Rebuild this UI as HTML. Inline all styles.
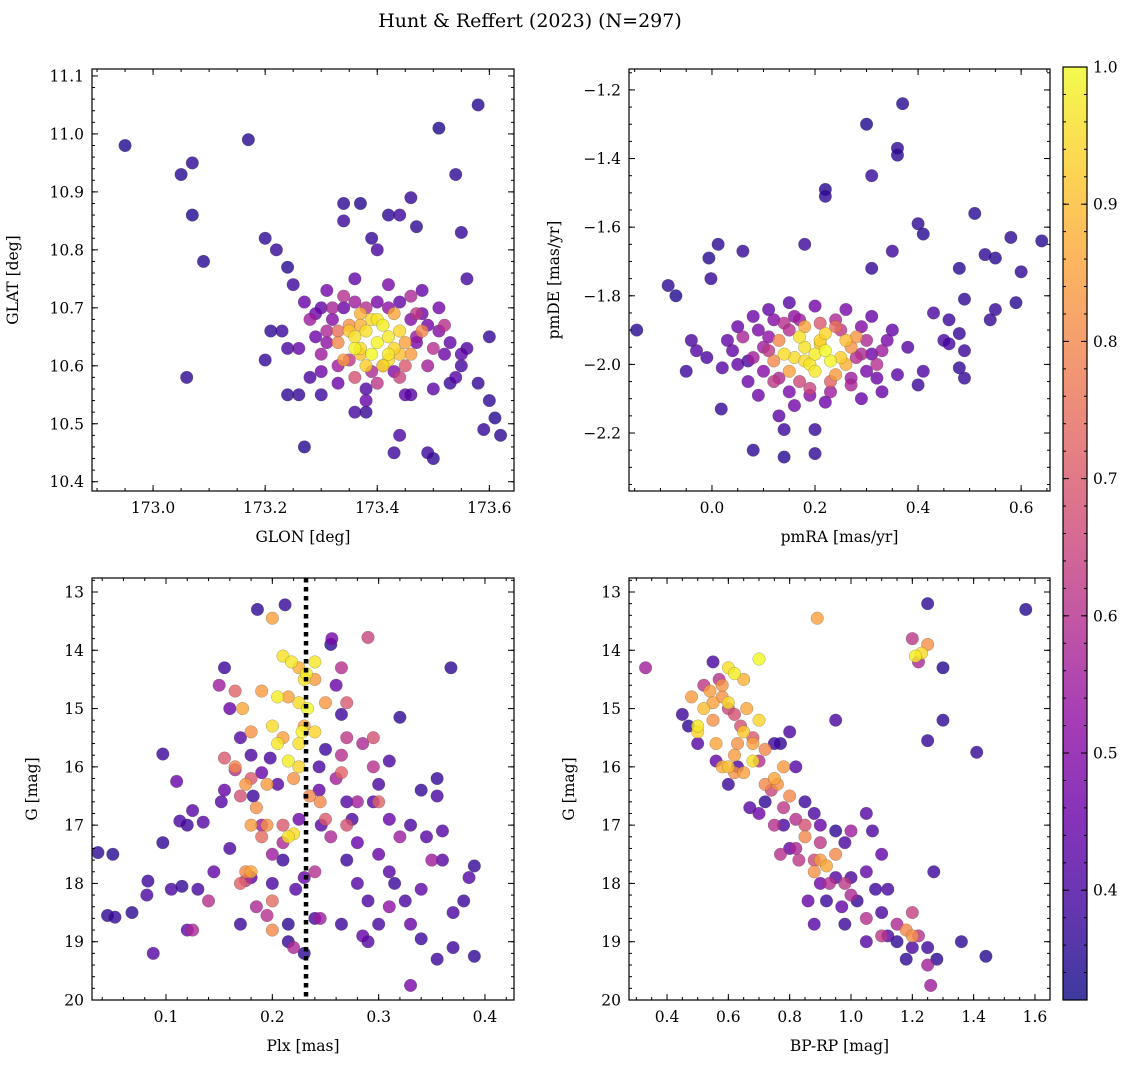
<!DOCTYPE html>
<html><head><meta charset="utf-8"><style>
body{margin:0;background:#fff;}
svg text{font-family:"DejaVu Serif","Liberation Serif",serif;fill:#000;}
</style></head><body>
<svg id="fig" width="1136" height="1067" viewBox="0 0 1136 1067" xmlns="http://www.w3.org/2000/svg">
<defs>
<linearGradient id="plasma" x1="0" y1="1" x2="0" y2="0">
<stop offset="0" stop-color="#0d0887"/><stop offset="0.1" stop-color="#41049d"/><stop offset="0.2" stop-color="#6a00a8"/><stop offset="0.3" stop-color="#8f0da4"/><stop offset="0.4" stop-color="#b12a90"/><stop offset="0.5" stop-color="#cc4778"/><stop offset="0.6" stop-color="#e16462"/><stop offset="0.7" stop-color="#f2844b"/><stop offset="0.8" stop-color="#fca636"/><stop offset="0.9" stop-color="#fcce25"/><stop offset="1" stop-color="#f0f921"/>
</linearGradient>
</defs>
<text x="530" y="27" font-size="19" text-anchor="middle">Hunt &amp; Reffert (2023) (N=297)</text>
</svg>
<script>
// ---------- DATA ----------
const p1Glon=[172.95,173.05,173.07,173.07,173.09,173.06,173.17,173.2,173.22,173.24,173.25,173.21,173.2,173.23,173.24,173.24,173.26,173.27,173.34,173.34,173.37,173.39,173.4,173.42,173.44,173.46,173.47,173.51,173.54,173.58,173.55,173.56,173.67,173.68,173.69,173.58,173.6,173.61,173.62,173.59,173.49,173.5,173.44,173.43,173.36,173.38,173.38,173.3,173.28,173.46,173.53,173.55,173.56,173.6,
173.27,173.29,173.53,173.55,173.51,173.48,173.36,173.42,173.3,173.45,173.38,173.54,173.26,173.31,173.5,173.33,
173.31,173.47,173.3,173.5,173.44,173.36,173.32,173.49,173.52,173.28,173.4,173.46,173.34,
173.35,173.45,173.33,173.46,173.37,173.43,173.48,173.34,
173.38,173.4,173.42,173.37,173.41,173.39,173.43,173.36,173.4,173.42,173.38,173.44,
173.32,173.34,173.36,173.38,173.40,173.42,173.44,173.46,173.48,173.33,173.35,173.39,173.41,173.43,173.47,173.45,173.37,173.29,173.51,173.31,173.49,173.42,173.35,173.39,173.44,173.36,173.41,173.47,173.33,173.30,173.52,173.37];
const p1Glat=[10.98,10.93,10.95,10.86,10.78,10.58,10.99,10.82,10.80,10.77,10.74,10.66,10.61,10.66,10.63,10.55,10.55,10.46,10.88,10.85,10.88,10.82,10.80,10.86,10.86,10.89,10.84,11.01,10.93,11.05,10.83,10.75,10.84,10.66,10.56,10.57,10.54,10.51,10.48,10.49,10.45,10.44,10.48,10.45,10.52,10.52,10.56,10.55,10.58,10.55,10.57,10.6,10.63,10.65,
10.71,10.65,10.64,10.62,10.70,10.73,10.75,10.74,10.59,10.55,10.54,10.58,10.63,10.73,10.56,10.57,
10.66,10.69,10.62,10.63,10.58,10.58,10.70,10.60,10.67,10.68,10.57,10.72,10.72,
10.67,10.64,10.64,10.62,10.69,10.69,10.66,10.61,
10.66,10.64,10.65,10.63,10.67,10.62,10.63,10.65,10.68,10.61,10.60,10.66,
10.68,10.70,10.71,10.70,10.71,10.70,10.71,10.68,10.69,10.60,10.61,10.59,10.60,10.59,10.64,10.60,10.62,10.69,10.66,10.64,10.67,10.62,10.66,10.68,10.62,10.63,10.60,10.65,10.66,10.70,10.62,10.67];
const p1Prob=[0.34,0.35,0.36,0.34,0.35,0.36,0.35,0.36,0.37,0.35,0.38,0.36,0.37,0.38,0.4,0.36,0.37,0.35,0.36,0.38,0.35,0.37,0.4,0.36,0.38,0.37,0.36,0.34,0.36,0.35,0.37,0.39,0.35,0.36,0.35,0.37,0.36,0.35,0.36,0.37,0.38,0.36,0.4,0.38,0.39,0.37,0.41,0.38,0.4,0.42,0.38,0.39,0.41,0.37,
0.45,0.46,0.44,0.43,0.47,0.45,0.44,0.48,0.46,0.43,0.45,0.42,0.44,0.47,0.43,0.46,
0.58,0.62,0.55,0.6,0.65,0.68,0.57,0.56,0.6,0.55,0.62,0.58,0.6,
0.82,0.85,0.8,0.84,0.88,0.86,0.8,0.83,
0.96,0.99,0.97,0.95,0.98,1.0,0.94,0.96,0.97,0.95,0.93,0.94,
0.5,0.45,0.55,0.6,0.48,0.52,0.44,0.5,0.46,0.55,0.62,0.58,0.66,0.5,0.48,0.7,0.9,0.46,0.5,0.52,0.47,0.97,0.92,0.95,0.9,0.99,0.96,0.54,0.75,0.44,0.46,0.88];

const p2Pmra=[-0.146,-0.085,-0.07,-0.002,0.012,-0.006,-0.04,-0.03,-0.05,-0.01,0.018,0.08,0.14,0.14,0.20,0.20,0.18,0.22,0.22,0.3,0.37,0.36,0.36,0.31,0.40,0.41,0.35,0.31,0.51,0.53,0.55,0.58,0.54,0.49,0.48,0.55,0.60,0.59,0.46,0.43,0.45,0.48,0.49,0.48,0.49,0.46,0.41,0.40,0.06,0.07,0.15,0.64,
0.04,0.02,0.05,0.09,0.35,0.36,0.29,0.16,0.22,0.11,0.26,0.31,0.38,0.07,0.20,0.13,0.03,0.33,
0.10,0.30,0.08,0.32,0.12,0.27,0.19,0.14,0.24,0.33,0.06,
0.13,0.27,0.15,0.24,0.12,0.28,0.18,0.26,
0.18,0.20,0.22,0.16,0.19,0.23,0.21,0.17,0.14,0.25,0.20,0.22,
0.09,0.11,0.15,0.17,0.21,0.25,0.29,0.31,0.34,0.10,0.13,0.17,0.23,0.27,0.30,0.05,0.08,0.12,0.16,0.24,0.28,0.32,0.19,0.23,0.15,0.26,0.21,0.18,0.11,0.29];
const p2Pmde=[-1.90,-1.77,-1.80,-1.75,-1.65,-1.69,-1.93,-1.96,-2.02,-1.98,-2.13,-2.25,-2.27,-2.19,-2.26,-2.19,-1.65,-1.49,-1.51,-1.30,-1.24,-1.37,-1.39,-1.45,-1.59,-1.62,-1.67,-1.72,-1.56,-1.68,-1.69,-1.63,-1.87,-1.81,-1.72,-1.84,-1.73,-1.82,-1.87,-1.85,-1.93,-1.91,-1.96,-2.01,-2.04,-1.94,-2.02,-2.06,-1.67,-1.99,-1.82,-1.64,
-1.96,-2.01,-1.89,-2.09,-1.90,-2.03,-2.10,-2.12,-2.11,-1.84,-1.84,-1.86,-1.95,-2.05,-1.83,-2.15,-1.93,-2.08,
-1.95,-1.93,-1.98,-2.00,-2.05,-2.06,-2.07,-1.88,-1.87,-1.96,-1.92,
-1.93,-1.95,-2.02,-2.03,-1.99,-1.92,-1.89,-2.00,
-1.95,-1.97,-1.96,-1.98,-2.00,-1.99,-1.93,-1.92,-1.97,-1.98,-2.02,-1.91,
-1.90,-1.92,-1.90,-1.87,-1.88,-1.90,-1.89,-1.97,-1.93,-2.02,-2.04,-2.05,-2.05,-2.04,-2.02,-2.00,-1.86,-1.87,-1.86,-1.89,-1.98,-2.04,-2.09,-2.08,-2.08,-1.93,-1.94,-1.99,-1.96,-1.97];
const p2Prob=[0.35,0.36,0.34,0.37,0.36,0.35,0.4,0.42,0.38,0.4,0.37,0.36,0.35,0.38,0.36,0.37,0.38,0.35,0.36,0.34,0.35,0.36,0.35,0.37,0.36,0.35,0.38,0.37,0.35,0.36,0.35,0.36,0.37,0.36,0.35,0.37,0.36,0.35,0.38,0.4,0.39,0.37,0.38,0.36,0.37,0.39,0.41,0.38,0.37,0.4,0.42,0.35,
0.44,0.42,0.45,0.46,0.44,0.43,0.45,0.47,0.46,0.44,0.48,0.45,0.42,0.46,0.47,0.43,0.44,0.45,
0.55,0.58,0.56,0.6,0.62,0.57,0.65,0.6,0.58,0.55,0.57,
0.8,0.82,0.85,0.84,0.8,0.83,0.86,0.88,
0.96,0.98,1.0,0.95,0.97,0.99,0.94,0.96,0.95,0.93,0.97,0.94,
0.48,0.52,0.6,0.55,0.7,0.62,0.5,0.46,0.48,0.5,0.58,0.66,0.72,0.55,0.48,0.44,0.46,0.5,0.52,0.75,0.6,0.46,0.5,0.55,0.48,0.9,0.92,0.95,0.62,0.58];

const p3Plx=[0.036,0.05,0.045,0.052,0.083,0.082,0.097,0.068,0.088,0.097,0.11,0.113,0.12,0.125,0.105,0.115,0.13,0.12,0.155,0.16,0.17,0.18,0.182,0.155,0.152,0.16,0.17,0.18,0.186,0.212,0.198,0.19,0.205,0.2,0.21,0.222,0.215,0.215,0.23,0.244,0.244,0.246,0.25,0.255,0.256,0.26,0.265,0.27,0.275,0.28,0.27,0.28,0.29,0.265,0.285,0.29,0.3,0.3,0.31,0.32,0.31,0.315,0.325,0.34,0.345,0.33,0.33,0.34,0.355,0.355,0.36,0.355,0.368,0.37,0.38,0.385,0.39,0.39,0.37,0.36,0.33,0.31,0.295,0.23,0.24,0.145,0.135,0.225,0.3,0.34,
0.15,0.125,0.14,0.19,0.21,0.265,0.27,0.285,0.29,0.295,0.28,0.255,0.32,0.31,0.24,0.175,0.2,0.185,0.195,0.245,0.26,0.35,0.165,0.22,0.265,
0.155,0.165,0.17,0.18,0.19,0.265,0.27,0.295,0.3,0.25,0.27,0.2,0.21,0.17,
0.2,0.172,0.18,0.19,0.165,0.175,0.185,0.18,0.175,0.18,0.195,0.2,0.21,0.225,0.23,0.245,0.24,0.22,0.215,0.25,0.235,0.195,
0.21,0.205,0.218,0.225,0.228,0.233,0.225,0.2,0.205,0.215,0.225,0.23,0.24,0.215,0.22,0.24,0.232];
const p3G=[17.47,17.5,18.55,18.58,17.96,18.2,17.3,18.5,19.2,15.78,16.25,16.93,17.0,16.75,18.1,18.05,18.1,18.8,14.3,15.0,15.5,15.8,16.5,16.4,16.6,17.4,18.7,17.9,13.3,13.22,15.85,16.1,16.3,18.0,17.6,18.1,18.7,19.0,19.2,16.0,16.4,17.0,15.7,13.9,13.8,14.6,15.1,16.6,16.9,17.3,17.6,18.0,18.3,18.7,18.9,19.0,16.3,17.5,15.9,15.15,17.8,18.0,18.3,16.4,17.2,18.7,19.75,18.95,16.2,16.5,17.1,19.3,14.3,18.5,18.3,17.9,17.7,19.25,19.1,17.6,17.0,16.9,16.6,17.9,18.6,17.8,16.95,16.9,18.7,18.1,
14.6,18.8,18.3,17.0,17.3,14.3,15.5,15.6,13.78,16.0,16.6,17.2,17.2,18.4,17.8,17.95,17.5,18.4,18.55,18.6,16.2,17.6,16.05,19.1,15.8,
15.85,14.7,16.5,16.2,17.2,16.1,14.9,15.5,16.6,16.9,17.0,18.3,17.0,18.0,
13.45,15.0,15.4,14.7,16.0,16.3,16.7,17.0,17.8,17.8,17.0,18.8,15.5,14.3,15.3,16.6,14.5,16.2,14.8,14.9,16.5,16.3,
14.1,14.8,14.2,14.9,15.4,15.0,15.6,15.3,15.6,15.9,16.0,14.5,14.2,17.2,17.15,15.4,14.4];
const p3Prob=[0.36,0.35,0.36,0.37,0.38,0.4,0.37,0.36,0.42,0.38,0.45,0.4,0.38,0.42,0.4,0.37,0.39,0.44,0.38,0.45,0.42,0.4,0.38,0.45,0.42,0.4,0.38,0.42,0.36,0.37,0.4,0.45,0.42,0.4,0.38,0.42,0.36,0.37,0.36,0.4,0.44,0.42,0.38,0.36,0.48,0.45,0.38,0.42,0.4,0.45,0.38,0.42,0.4,0.38,0.44,0.42,0.4,0.45,0.4,0.36,0.42,0.38,0.4,0.37,0.42,0.45,0.48,0.38,0.37,0.4,0.42,0.38,0.36,0.4,0.38,0.42,0.37,0.36,0.38,0.42,0.4,0.45,0.42,0.45,0.4,0.44,0.42,0.46,0.4,0.43,
0.55,0.58,0.6,0.55,0.58,0.6,0.62,0.58,0.65,0.6,0.56,0.58,0.55,0.52,0.6,0.62,0.55,0.58,0.6,0.55,0.56,0.55,0.6,0.58,0.6,
0.7,0.72,0.68,0.7,0.74,0.72,0.7,0.68,0.72,0.7,0.68,0.74,0.7,0.72,
0.85,0.86,0.82,0.84,0.8,0.83,0.82,0.84,0.8,0.86,0.82,0.8,0.85,0.88,0.86,0.8,0.84,0.82,0.85,0.83,0.8,0.84,
0.96,0.98,0.97,0.95,0.99,1.0,0.96,0.95,0.97,0.98,0.94,0.96,0.97,0.96,0.95,0.94,0.98];

const p4Bprp=[0.5,0.52,0.55,0.58,0.6,0.62,0.65,0.7,0.6,0.65,0.62,0.6,0.68,0.65,0.72,0.75,0.55,0.48,0.5,0.56,0.58,0.62,0.68,0.72,0.78,0.8,0.76,0.85,0.88,0.9,0.92,0.95,0.89,1.21,1.23,1.25,1.18,1.2,0.58,0.54,0.66,0.7,0.63,
0.52,0.57,0.6,0.64,0.68,0.7,0.74,0.78,0.82,0.85,0.9,0.88,0.93,0.98,1.0,1.05,1.1,1.15,1.2,1.22,1.25,1.2,1.22,1.26,0.33,0.77,0.83,0.62,1.0,0.75,0.82,
0.45,0.47,0.5,0.55,0.56,0.6,0.63,0.67,0.72,0.75,0.77,0.8,0.82,0.85,0.88,0.9,0.95,0.98,0.92,0.95,1.0,1.02,1.05,1.08,1.1,1.12,1.15,1.2,1.25,1.28,1.27,1.25,1.3,1.3,1.25,1.41,1.57,1.36,1.44,0.95,0.88,0.86,0.8,0.78,0.7,1.05,1.07,1.1,0.98,1.05,1.18,0.9,1.12,0.97];
const p4G=[15.3,15.0,14.9,14.8,14.3,14.4,14.5,14.15,14.9,15.4,15.8,16.0,15.9,16.1,16.3,16.2,15.2,14.8,15.4,15.6,16.0,16.1,15.6,15.7,16.0,16.5,16.3,17.2,17.8,17.6,17.7,17.5,13.45,14.1,14.05,13.9,18.8,18.9,14.6,14.7,15.0,15.2,15.6,
14.6,14.5,15.0,15.3,15.5,15.9,16.4,16.7,16.9,17.0,17.3,17.6,18.0,18.0,18.2,18.6,18.9,18.7,18.5,18.9,19.4,13.8,14.2,19.75,14.3,17.5,17.6,15.1,17.1,17.0,17.4,
15.1,15.3,15.6,14.2,15.9,16.3,16.0,16.7,16.6,15.6,15.6,15.4,16.0,16.6,16.8,17.0,17.1,17.3,18.3,17.9,17.9,18.3,17.8,18.1,18.5,18.9,19.0,19.1,19.1,19.3,17.8,15.55,15.2,14.3,13.2,15.75,13.3,19.0,19.25,15.2,18.7,18.3,17.4,17.0,16.8,16.8,17.1,17.5,18.7,19.0,19.3,18.0,18.1,18.4];
const p4Prob=[0.97,0.9,0.85,0.82,0.96,0.98,0.88,1.0,0.95,0.92,0.84,0.9,0.96,0.85,0.8,0.86,0.82,0.84,0.94,0.86,0.88,0.82,0.85,0.8,0.84,0.8,0.82,0.8,0.82,0.84,0.86,0.8,0.85,0.98,0.95,0.82,0.8,0.82,0.82,0.84,0.86,0.94,0.82,
0.62,0.6,0.65,0.68,0.7,0.6,0.65,0.62,0.6,0.68,0.62,0.66,0.6,0.62,0.58,0.6,0.62,0.58,0.64,0.6,0.56,0.62,0.58,0.55,0.56,0.6,0.62,0.68,0.55,0.6,0.58,
0.38,0.36,0.42,0.4,0.44,0.38,0.4,0.42,0.36,0.38,0.37,0.4,0.42,0.38,0.4,0.45,0.36,0.4,0.38,0.42,0.4,0.37,0.44,0.38,0.4,0.42,0.36,0.4,0.38,0.36,0.38,0.37,0.36,0.35,0.36,0.37,0.35,0.36,0.35,0.4,0.42,0.45,0.44,0.4,0.46,0.42,0.4,0.44,0.38,0.42,0.36,0.46,0.4,0.44];

const cbarTicks=[0.4,0.5,0.6,0.7,0.8,0.9,1.0];
const plxLine=[0.2317];

// ---------- HELPERS ----------
const NS='http://www.w3.org/2000/svg';
const svg=document.getElementById('fig');
const VMIN=0.32,VMAX=1.0;
const stops=[[13,8,135],[65,4,157],[106,0,168],[143,13,164],[177,42,144],[204,71,120],[225,100,98],[242,132,75],[252,166,54],[252,206,37],[240,249,33]];
function plasma(v){let t=(v-VMIN)/(VMAX-VMIN);t=Math.max(0,Math.min(1,t))*10;const i=Math.min(9,Math.floor(t)),f=t-i;const a=stops[i],b=stops[i+1];return 'rgb('+[0,1,2].map(k=>Math.round(a[k]+(b[k]-a[k])*f)).join(',')+')';}
function mk(tag,attrs,parent){const e=document.createElementNS(NS,tag);for(const k in attrs)e.setAttribute(k,attrs[k]);(parent||svg).appendChild(e);return e;}
function fmt(v,d){return (Math.abs(v)<1e-9?0:v).toFixed(d).replace('-','\u2212');}

function panel(c){
  const g=mk('g',{});
  
  
  const sx=v=>c.x0+(v-c.xmin)/(c.xmax-c.xmin)*(c.x1-c.x0);
  const sy=c.invert?(v=>c.y0+(v-c.ymin)/(c.ymax-c.ymin)*(c.y1-c.y0)):(v=>c.y1-(v-c.ymin)/(c.ymax-c.ymin)*(c.y1-c.y0));
  mk('rect',{x:c.x0,y:c.y0,width:c.x1-c.x0,height:c.y1-c.y0,fill:'#fff'},g);
  const clipId='clip'+c.name;
  const cp=mk('clipPath',{id:clipId},g);mk('rect',{x:c.x0,y:c.y0,width:c.x1-c.x0,height:c.y1-c.y0},cp);
  const pts=mk('g',{'clip-path':'url(#'+clipId+')'},g);
  const idx=c.xs.map((_,i)=>i).sort((a,b)=>c.ps[a]-c.ps[b]);
  idx.forEach(i=>{
    const e=mk('circle',{cx:sx(c.xs[i]),cy:sy(c.ys[i]),r:6.3,fill:plasma(c.ps[i]),'fill-opacity':0.8,stroke:'#444','stroke-opacity':0.45,'stroke-width':0.5},pts);
    
    
  });
  if(c.vline){c.vline.forEach(v=>{const l=mk('line',{x1:sx(v),x2:sx(v),y1:c.y0,y2:c.y1,stroke:'#000','stroke-width':4.5,'stroke-dasharray':'4.5,4.5'},g);
    
    });}
  const tk=mk('g',{stroke:'#000','stroke-width':1},g);
  function range(a,b,s){const r=[];const n0=Math.ceil(a/s-1e-6),n1=Math.floor(b/s+1e-6);for(let n=n0;n<=n1;n++)r.push(n*s);return r;}
  range(c.xmin,c.xmax,c.xminor).forEach(v=>{const x=sx(v);mk('line',{x1:x,x2:x,y1:c.y1,y2:c.y1-3},tk);mk('line',{x1:x,x2:x,y1:c.y0,y2:c.y0+3},tk);});
  range(c.ymin,c.ymax,c.yminor).forEach(v=>{const y=sy(v);mk('line',{x1:c.x0,x2:c.x0+3,y1:y,y2:y},tk);mk('line',{x1:c.x1,x2:c.x1-3,y1:y,y2:y},tk);});
  c.xticks.forEach(v=>{const x=sx(v);mk('line',{x1:x,x2:x,y1:c.y1,y2:c.y1-6},tk);mk('line',{x1:x,x2:x,y1:c.y0,y2:c.y0+6},tk);
    const t=mk('text',{x:x,y:c.y1+22,'font-size':15.5,'text-anchor':'middle'},g);t.textContent=fmt(v,c.xd);
    
    });
  c.yticks.forEach(v=>{const y=sy(v);mk('line',{x1:c.x0,x2:c.x0+6,y1:y,y2:y},tk);mk('line',{x1:c.x1,x2:c.x1-6,y1:y,y2:y},tk);
    const t=mk('text',{x:c.x0-8,y:y+5.5,'font-size':15.5,'text-anchor':'end'},g);t.textContent=fmt(v,c.yd);
    
    });
  mk('rect',{x:c.x0,y:c.y0,width:c.x1-c.x0,height:c.y1-c.y0,fill:'none',stroke:'#000','stroke-width':1.2},g);
  const xl=mk('text',{x:(c.x0+c.x1)/2,y:c.y1+51,'font-size':15.5,'text-anchor':'middle'},g);xl.textContent=c.xlabel;
  
  
  const yx=c.x0-c.ylOff,yy=(c.y0+c.y1)/2;
  const yl=mk('text',{x:yx,y:yy,'font-size':15.5,'text-anchor':'middle',transform:'rotate(-90 '+yx+' '+yy+')'},g);yl.textContent=c.ylabel;
  
  
}

panel({name:'glon-glat-panel',x0:92,x1:514,y0:69,y1:491,xmin:172.891,xmax:173.644,ymin:10.384,ymax:11.112,
  xs:p1Glon,ys:p1Glat,ps:p1Prob,xticks:[173.0,173.2,173.4,173.6],yticks:[10.4,10.5,10.6,10.7,10.8,10.9,11.0,11.1],xminor:0.05,yminor:0.02,xd:1,yd:1,
  xlabel:'GLON [deg]',ylabel:'GLAT [deg]',ylOff:74});
panel({name:'proper-motion-panel',x0:629,x1:1050,y0:69,y1:491,xmin:-0.161,xmax:0.656,ymin:-2.369,ymax:-1.139,
  xs:p2Pmra,ys:p2Pmde,ps:p2Prob,xticks:[0.0,0.2,0.4,0.6],yticks:[-2.2,-2.0,-1.8,-1.6,-1.4,-1.2],xminor:0.05,yminor:0.05,xd:1,yd:1,
  xlabel:'pmRA [mas/yr]',ylabel:'pmDE [mas/yr]',ylOff:70});
panel({name:'parallax-magnitude-panel',x0:92,x1:514,y0:578,y1:1000,xmin:0.0304,xmax:0.4273,ymin:12.76,ymax:20,invert:true,
  xs:p3Plx,ys:p3G,ps:p3Prob,xticks:[0.1,0.2,0.3,0.4],yticks:[13,14,15,16,17,18,19,20],xminor:0.02,yminor:0.2,xd:1,yd:0,
  xlabel:'Plx [mas]',ylabel:'G [mag]',ylOff:55,vline:plxLine});
panel({name:'cmd-panel',x0:629,x1:1050,y0:578,y1:1000,xmin:0.276,xmax:1.649,ymin:12.76,ymax:20,invert:true,
  xs:p4Bprp,ys:p4G,ps:p4Prob,xticks:[0.4,0.6,0.8,1.0,1.2,1.4,1.6],yticks:[13,14,15,16,17,18,19,20],xminor:0.05,yminor:0.2,xd:1,yd:0,
  xlabel:'BP-RP [mag]',ylabel:'G [mag]',ylOff:55});

(function(){
  const x0=1063,x1=1087,y0=67,y1=1000;
  const g=mk('g',{});
  
  
  mk('rect',{x:x0,y:y0,width:x1-x0,height:y1-y0,fill:'url(#plasma)','fill-opacity':0.8},g);
  const sy=v=>y1-(v-VMIN)/(VMAX-VMIN)*(y1-y0);
  for(let v=0.34;v<=1.0001;v+=0.02){const y=sy(v);mk('line',{x1:x1,x2:x1-3,y1:y,y2:y,stroke:'#000'},g);mk('line',{x1:x0,x2:x0+3,y1:y,y2:y,stroke:'#000'},g);}
  cbarTicks.forEach(v=>{const y=sy(v);mk('line',{x1:x1,x2:x1-6,y1:y,y2:y,stroke:'#000'},g);mk('line',{x1:x0,x2:x0+6,y1:y,y2:y,stroke:'#000'},g);
    const t=mk('text',{x:x1+6,y:y+5.5,'font-size':15.5},g);t.textContent=v.toFixed(1);
    
    });
  mk('rect',{x:x0,y:y0,width:x1-x0,height:y1-y0,fill:'none',stroke:'#000','stroke-width':1.2},g);
})();
</script>
</body></html>
